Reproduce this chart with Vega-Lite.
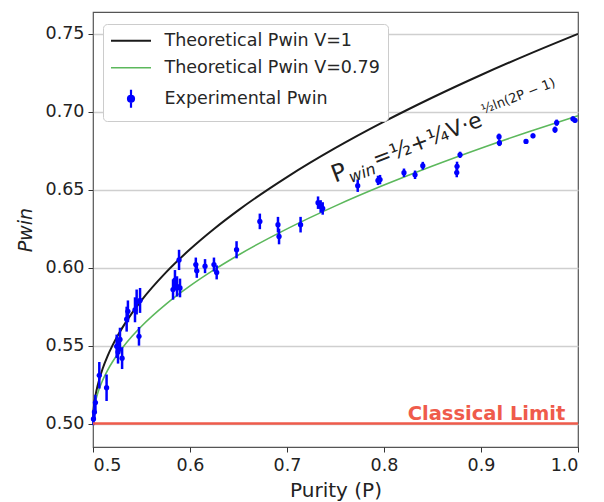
{
  "$schema": "https://vega.github.io/schema/vega-lite/v6.json",
  "autosize": "none",
  "padding": {"left": 93, "top": 12, "right": 26, "bottom": 55},
  "width": 485,
  "height": 435,
  "background": "white",
  "config": {
    "font": "DejaVu Sans",
    "view": {"stroke": "#555555", "strokeWidth": 1.2},
    "axis": {"labelFont": "DejaVu Sans", "titleFont": "DejaVu Sans", "labelColor": "#222222", "titleColor": "#222222", "tickColor": "#333333", "tickSize": 5, "domain": false, "labelFontSize": 17.5, "titleFontSize": 20, "titleFontWeight": "normal"}
  },
  "datasets": {
    "v1": [
      {"P": 0.5, "Pwin": 0.5}, {"P": 0.5001, "Pwin": 0.50354}, {"P": 0.5002, "Pwin": 0.505}, {"P": 0.5005, "Pwin": 0.50791},
      {"P": 0.501, "Pwin": 0.51118}, {"P": 0.502, "Pwin": 0.51581}, {"P": 0.503, "Pwin": 0.51937}, {"P": 0.505, "Pwin": 0.525},
      {"P": 0.51, "Pwin": 0.53536}, {"P": 0.515, "Pwin": 0.5433}, {"P": 0.52, "Pwin": 0.55}, {"P": 0.525, "Pwin": 0.5559},
      {"P": 0.53, "Pwin": 0.56124}, {"P": 0.54, "Pwin": 0.57071}, {"P": 0.55, "Pwin": 0.57906}, {"P": 0.575, "Pwin": 0.59683},
      {"P": 0.6, "Pwin": 0.6118}, {"P": 0.625, "Pwin": 0.625}, {"P": 0.65, "Pwin": 0.63693}, {"P": 0.7, "Pwin": 0.65811},
      {"P": 0.75, "Pwin": 0.67678}, {"P": 0.8, "Pwin": 0.69365}, {"P": 0.85, "Pwin": 0.70917}, {"P": 0.9, "Pwin": 0.72361},
      {"P": 0.95, "Pwin": 0.73717}, {"P": 1.0, "Pwin": 0.75}
    ],
    "v079": [
      {"P": 0.5, "Pwin": 0.5}, {"P": 0.5001, "Pwin": 0.50279}, {"P": 0.5002, "Pwin": 0.50395}, {"P": 0.5005, "Pwin": 0.50625},
      {"P": 0.501, "Pwin": 0.50883}, {"P": 0.502, "Pwin": 0.51249}, {"P": 0.503, "Pwin": 0.5153}, {"P": 0.505, "Pwin": 0.51975},
      {"P": 0.51, "Pwin": 0.52793}, {"P": 0.515, "Pwin": 0.53421}, {"P": 0.52, "Pwin": 0.5395}, {"P": 0.525, "Pwin": 0.54416},
      {"P": 0.53, "Pwin": 0.54838}, {"P": 0.54, "Pwin": 0.55586}, {"P": 0.55, "Pwin": 0.56246}, {"P": 0.575, "Pwin": 0.57649},
      {"P": 0.6, "Pwin": 0.58832}, {"P": 0.625, "Pwin": 0.59875}, {"P": 0.65, "Pwin": 0.60818}, {"P": 0.7, "Pwin": 0.62491},
      {"P": 0.75, "Pwin": 0.63965}, {"P": 0.8, "Pwin": 0.65298}, {"P": 0.85, "Pwin": 0.66524}, {"P": 0.9, "Pwin": 0.67665},
      {"P": 0.95, "Pwin": 0.68736}, {"P": 1.0, "Pwin": 0.6975}
    ],
    "exp": [
      {"P": 0.5005, "Pwin": 0.503, "err": 0.004}, {"P": 0.5015, "Pwin": 0.5075, "err": 0.005}, {"P": 0.5025, "Pwin": 0.5135, "err": 0.005},
      {"P": 0.5065, "Pwin": 0.531, "err": 0.0085}, {"P": 0.514, "Pwin": 0.523, "err": 0.0085}, {"P": 0.5244, "Pwin": 0.5496, "err": 0.0075},
      {"P": 0.5258, "Pwin": 0.546, "err": 0.0075}, {"P": 0.5278, "Pwin": 0.554, "err": 0.0075}, {"P": 0.53, "Pwin": 0.542, "err": 0.007},
      {"P": 0.5347, "Pwin": 0.567, "err": 0.008}, {"P": 0.536, "Pwin": 0.572, "err": 0.007}, {"P": 0.5433, "Pwin": 0.573, "err": 0.008},
      {"P": 0.545, "Pwin": 0.578, "err": 0.008}, {"P": 0.5485, "Pwin": 0.579, "err": 0.008}, {"P": 0.5474, "Pwin": 0.556, "err": 0.006},
      {"P": 0.5825, "Pwin": 0.586, "err": 0.0065}, {"P": 0.5845, "Pwin": 0.592, "err": 0.0065}, {"P": 0.5866, "Pwin": 0.588, "err": 0.0065},
      {"P": 0.5887, "Pwin": 0.605, "err": 0.0065}, {"P": 0.5897, "Pwin": 0.587, "err": 0.006}, {"P": 0.606, "Pwin": 0.602, "err": 0.0045},
      {"P": 0.607, "Pwin": 0.598, "err": 0.0045}, {"P": 0.6155, "Pwin": 0.601, "err": 0.0045}, {"P": 0.6247, "Pwin": 0.602, "err": 0.0045},
      {"P": 0.6275, "Pwin": 0.597, "err": 0.0045}, {"P": 0.648, "Pwin": 0.6115, "err": 0.0055}, {"P": 0.672, "Pwin": 0.6297, "err": 0.005},
      {"P": 0.6907, "Pwin": 0.6276, "err": 0.005}, {"P": 0.6918, "Pwin": 0.62, "err": 0.005}, {"P": 0.714, "Pwin": 0.6276, "err": 0.005},
      {"P": 0.732, "Pwin": 0.6417, "err": 0.004}, {"P": 0.7347, "Pwin": 0.6393, "err": 0.004}, {"P": 0.7368, "Pwin": 0.638, "err": 0.004},
      {"P": 0.7729, "Pwin": 0.6526, "err": 0.004}, {"P": 0.7938, "Pwin": 0.656, "err": 0.003}, {"P": 0.7959, "Pwin": 0.6565, "err": 0.003},
      {"P": 0.8206, "Pwin": 0.6609, "err": 0.0027}, {"P": 0.832, "Pwin": 0.6596, "err": 0.0027}, {"P": 0.84, "Pwin": 0.6654, "err": 0.0025},
      {"P": 0.875, "Pwin": 0.661, "err": 0.003}, {"P": 0.8753, "Pwin": 0.665, "err": 0.003}, {"P": 0.8784, "Pwin": 0.6724, "err": 0.002},
      {"P": 0.9186, "Pwin": 0.684, "err": 0.002}, {"P": 0.919, "Pwin": 0.68, "err": 0.002}, {"P": 0.9464, "Pwin": 0.681, "err": 0.0015},
      {"P": 0.9536, "Pwin": 0.6846, "err": 0.0015}, {"P": 0.9763, "Pwin": 0.6885, "err": 0.002}, {"P": 0.978, "Pwin": 0.693, "err": 0.002},
      {"P": 0.9948, "Pwin": 0.6955, "err": 0.0015}, {"P": 0.9969, "Pwin": 0.6945, "err": 0.0015}
    ],
    "one": [{}]
  },
  "encoding": {
    "x": {"type": "quantitative", "scale": {"domain": [0.5, 1.0], "nice": false, "zero": false},
          "axis": {"title": "Purity (P)", "values": [0.5, 0.6, 0.7, 0.8, 0.9, 1.0], "format": ".1f", "grid": false, "labelPadding": 4, "titlePadding": 7}},
    "y": {"type": "quantitative", "scale": {"domain": [0.485, 0.764], "nice": false, "zero": false},
          "axis": {"title": "Pwin", "titleFontStyle": "italic", "titleFontSize": 19, "values": [0.5, 0.55, 0.6, 0.65, 0.7, 0.75], "format": ".2f", "grid": true, "gridColor": "#cfcfcf", "gridWidth": 1.5, "labelPadding": 4, "titlePadding": 10}}
  },
  "layer": [
    {
      "data": {"name": "v1"},
      "mark": {"type": "line", "strokeWidth": 2, "interpolate": "monotone"},
      "encoding": {
        "x": {"field": "P", "type": "quantitative"},
        "y": {"field": "Pwin", "type": "quantitative"},
        "color": {"datum": "Theoretical Pwin V=1", "type": "nominal",
          "scale": {"domain": ["Theoretical Pwin V=1", "Theoretical Pwin V=0.79", "Experimental Pwin"], "range": ["#1a1a1a", "#5cb85c", "#0000ff"]},
          "legend": {
            "orient": "none", "legendX": 10, "legendY": 12, "title": null,
            "labelFontSize": 17.5, "labelFont": "DejaVu Sans", "labelColor": "#262626", "labelLimit": 400, "labelOffset": 36,
            "symbolType": "stroke", "symbolSize": 1600, "symbolStrokeWidth": 2,
            "fillColor": "white", "strokeColor": "#cccccc", "cornerRadius": 4, "padding": 8, "rowPadding": 8,
            "encode": {"symbols": {"update": {
              "shape": {"signal": "datum.value === 'Experimental Pwin' ? 'M0,-0.45L0,0.45M-0.15,0A0.15,0.15,0,1,1,0.15,0A0.15,0.15,0,1,1,-0.15,0Z' : 'stroke'"},
              "x": {"value": 20},
              "size": {"value": 1600},
              "fill": {"signal": "datum.value === 'Experimental Pwin' ? '#0000ff' : 'transparent'"},
              "stroke": {"signal": "datum.value === 'Experimental Pwin' ? '#0000ff' : (datum.value === 'Theoretical Pwin V=1' ? '#1a1a1a' : '#5cb85c')"},
              "strokeWidth": {"signal": "datum.value === 'Theoretical Pwin V=0.79' ? 1.5 : 2.2"},
              "opacity": {"value": 1}
            }}}
          }}
      }
    },
    {
      "data": {"name": "v079"},
      "mark": {"type": "line", "strokeWidth": 1.6, "interpolate": "monotone"},
      "encoding": {
        "x": {"field": "P", "type": "quantitative"},
        "y": {"field": "Pwin", "type": "quantitative"},
        "color": {"datum": "Theoretical Pwin V=0.79", "type": "nominal"}
      }
    },
    {
      "data": {"name": "exp"},
      "mark": {"type": "errorbar", "thickness": 2.5},
      "encoding": {
        "x": {"field": "P", "type": "quantitative"},
        "y": {"field": "Pwin", "type": "quantitative"},
        "yError": {"field": "err"},
        "color": {"datum": "Experimental Pwin", "type": "nominal"}
      }
    },
    {
      "data": {"name": "exp"},
      "mark": {"type": "point", "filled": true, "size": 28, "opacity": 1},
      "encoding": {
        "x": {"field": "P", "type": "quantitative"},
        "y": {"field": "Pwin", "type": "quantitative"},
        "color": {"datum": "Experimental Pwin", "type": "nominal"}
      }
    },
    {
      "data": {"name": "one"},
      "mark": {"type": "rule", "color": "#ef5b4b", "strokeWidth": 2.5},
      "encoding": {"y": {"datum": 0.5}}
    },
    {
      "data": {"name": "one"},
      "mark": {"type": "text", "text": "Classical Limit", "color": "#ef5b4b", "fontWeight": "bold", "fontSize": 19.5, "align": "right", "baseline": "alphabetic"},
      "encoding": {"x": {"datum": 0.987}, "y": {"datum": 0.5026}}
    },
    {
      "data": {"name": "one"},
      "mark": {"type": "text", "text": "P", "fontSize": 24, "angle": -21, "align": "left", "baseline": "alphabetic", "color": "#222222"},
      "encoding": {"x": {"datum": 0.7495}, "y": {"datum": 0.6545}}
    },
    {
      "data": {"name": "one"},
      "mark": {"type": "text", "text": "win", "fontSize": 16, "fontStyle": "italic", "angle": -21, "align": "left", "baseline": "alphabetic", "dx": 15, "dy": 6, "color": "#222222"},
      "encoding": {"x": {"datum": 0.7495}, "y": {"datum": 0.6545}}
    },
    {
      "data": {"name": "one"},
      "mark": {"type": "text", "text": "=½+¼V·e", "fontSize": 22, "angle": -21, "align": "left", "baseline": "alphabetic", "dx": 44, "color": "#222222"},
      "encoding": {"x": {"datum": 0.7495}, "y": {"datum": 0.6545}}
    },
    {
      "data": {"name": "one"},
      "mark": {"type": "text", "text": "½ln(2P − 1)", "fontSize": 13, "angle": -21, "align": "left", "baseline": "alphabetic", "dx": 163, "dy": -11, "color": "#222222"},
      "encoding": {"x": {"datum": 0.7495}, "y": {"datum": 0.6545}}
    }
  ]
}
